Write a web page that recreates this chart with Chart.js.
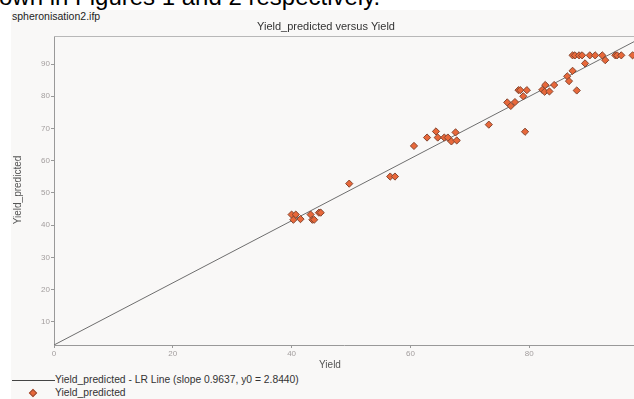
<!DOCTYPE html>
<html>
<head>
<meta charset="utf-8">
<script src="https://cdn.jsdelivr.net/npm/chart.js@4.4.1/dist/chart.umd.min.js"></script>
<style>
  html, body { margin: 0; padding: 0; background: #fff; width: 634px; height: 399px; overflow: hidden;
    font-family: "Liberation Sans", Arial, sans-serif; }
  #doc { position: absolute; left: -1px; top: -15px; font-size: 24px; line-height: 24px; color: #000; white-space: nowrap; }
  #panel { position: absolute; left: 11px; top: 10px; width: 623px; height: 389px; background: #f9f8f7; }
  #file { position: absolute; left: 12px; top: 10px; font-size: 10.5px; line-height: 12px; color: #222; white-space: nowrap; }
  #chart { position: absolute; left: 0; top: 0; }
  .lg { position: absolute; left: 55px; font-size: 10.3px; line-height: 12px; color: #333; white-space: nowrap; }
  #lgLine { position: absolute; left: 12px; top: 380px; width: 43px; height: 1px; background: #444; }
  #lgDot { position: absolute; left: 30px; top: 390px; width: 4px; height: 4px; background: #e8683a;
    border: 0.6px solid #9a5038; transform: rotate(45deg); }
</style>
</head>
<body>
<div id="doc">own in Figures 1 and 2 respectively.</div>
<div id="panel"></div>
<div id="file">spheronisation2.ifp</div>
<canvas id="chart" width="634" height="372"></canvas>
<div id="lgLine"></div>
<div class="lg" style="top:374px">Yield_predicted - LR Line (slope 0.9637, y0 = 2.8440)</div>
<div id="lgDot"></div>
<div class="lg" style="top:387px">Yield_predicted</div>
<script>
// Observed yield (x) and model-predicted yield (y) for each run
const yieldObs = [
  40.0, 40.7, 40.3, 41.5, 43.2, 43.5, 43.8, 44.6, 44.9,
  49.7, 56.6, 57.4, 60.6, 62.8, 64.3, 64.6, 65.7, 66.3, 66.9, 67.6, 67.8, 73.2,
  76.3, 76.9, 77.6, 78.2, 78.5, 79.6, 79.0, 79.3, 82.2, 82.6, 82.7, 83.4, 84.2,
  86.4, 86.7, 87.3, 88.0, 89.4, 92.8,
  87.3, 87.7, 88.4, 88.9, 90.2, 91.1, 92.3, 94.5, 94.8, 95.5, 97.4
];
const yieldPred = [
  43.3, 43.3, 41.7, 41.9, 43.3, 41.7, 41.7, 43.9, 43.9,
  52.9, 55.1, 55.1, 64.6, 67.2, 69.1, 67.2, 67.2, 67.2, 66.0, 68.8, 66.3, 71.2,
  78.1, 77.0, 78.2, 81.9, 81.9, 81.9, 80.0, 69.0, 82.0, 81.4, 83.5, 81.5, 83.5,
  86.2, 84.7, 87.9, 81.8, 90.2, 91.2,
  92.7, 92.7, 92.7, 92.7, 92.7, 92.7, 92.7, 92.7, 92.7, 92.7, 92.7
];

// Linear regression line as stated in the legend
const lrSlope = 0.9637;
const lrIntercept = 2.8440;

// Axis ranges and tick positions
const xRange = [0, 97.64];
const yRange = [2.844, 98.7];
const xTicks = [0, 20, 40, 60, 80];
const yTicks = [10, 20, 30, 40, 50, 60, 70, 80, 90];

const FONT = '"Liberation Sans", Arial, sans-serif';

const points = yieldObs.map((x, i) => ({ x: x, y: yieldPred[i] }));
const lrLine = xRange.map(x => ({ x: x, y: lrIntercept + lrSlope * x }));

// Frame top edge, chart title and axis titles
const decor = {
  id: 'decor',
  beforeDatasetsDraw(chart) {
    const { ctx, chartArea: a } = chart;
    ctx.save();
    ctx.strokeStyle = '#b8b8b8';
    ctx.lineWidth = 1;
    ctx.beginPath();
    ctx.moveTo(a.left, a.top + 0.5);
    ctx.lineTo(a.right, a.top + 0.5);
    ctx.stroke();
    ctx.restore();
  },
  afterDraw(chart) {
    const { ctx } = chart;
    ctx.save();
    ctx.textAlign = 'center';
    ctx.textBaseline = 'middle';
    ctx.fillStyle = '#333';
    ctx.font = '11px ' + FONT;
    ctx.fillText('Yield_predicted versus Yield', 326, 27);
    ctx.fillStyle = '#555';
    ctx.font = '10px ' + FONT;
    ctx.fillText('Yield', 330, 365);
    ctx.translate(18, 190);
    ctx.rotate(-Math.PI / 2);
    ctx.fillText('Yield_predicted', 0, 0);
    ctx.restore();
  }
};

new Chart(document.getElementById('chart'), {
  type: 'scatter',
  data: {
    datasets: [
      {
        label: 'Yield_predicted',
        data: points,
        pointStyle: 'rectRot',
        pointRadius: 3.6,
        backgroundColor: '#e8683a',
        borderColor: '#84452f',
        borderWidth: 1,
        clip: false,
        order: 0
      },
      {
        label: 'Yield_predicted - LR Line (slope 0.9637, y0 = 2.8440)',
        data: lrLine,
        showLine: true,
        pointRadius: 0,
        borderColor: '#6e6e6e',
        borderWidth: 1,
        order: 1
      }
    ]
  },
  options: {
    responsive: false,
    animation: false,
    devicePixelRatio: 1,
    layout: { autoPadding: false, padding: { top: 36, left: 0, right: 0, bottom: 0 } },
    plugins: { legend: { display: false }, tooltip: { enabled: false }, title: { display: false } },
    scales: {
      x: {
        type: 'linear',
        min: xRange[0],
        max: xRange[1],
        afterBuildTicks: s => { s.ticks = xTicks.map(v => ({ value: v })); },
        afterFit: s => { s.height = 27; },
        border: { color: '#999' },
        grid: { drawOnChartArea: false, drawTicks: true, tickLength: 3, color: '#999' },
        ticks: { font: { size: 8, family: FONT }, color: '#a39e9e', padding: 1, maxRotation: 0, autoSkip: false }
      },
      y: {
        type: 'linear',
        min: yRange[0],
        max: yRange[1],
        afterBuildTicks: s => { s.ticks = yTicks.map(v => ({ value: v })); },
        afterFit: s => { s.width = 54; },
        border: { color: '#999' },
        grid: { drawOnChartArea: false, drawTicks: true, tickLength: 3, color: '#999' },
        ticks: { font: { size: 8, family: FONT }, color: '#a39e9e', padding: 1, autoSkip: false }
      }
    }
  },
  plugins: [decor]
});
</script>
</body>
</html>
